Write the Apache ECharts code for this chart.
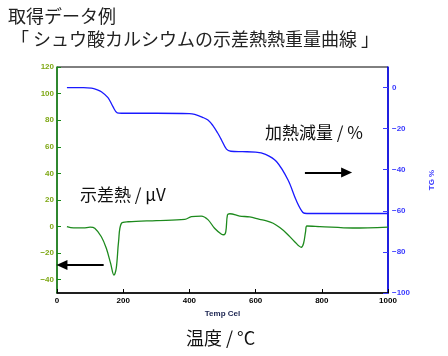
<!DOCTYPE html>
<html><head><meta charset="utf-8">
<script src="https://cdn.jsdelivr.net/npm/echarts@6/dist/echarts.min.js"></script>
<style>html,body{margin:0;padding:0;background:#fff}#c{width:448px;height:356px}</style>
</head><body><div id="c"></div>
<script>
// Temperature (°C) and TG (%) values
var tgTemp = [30, 80, 104, 120, 134, 154, 169, 182, 195, 300, 400, 416, 440, 456, 471, 485, 497, 512, 525, 560, 600, 630, 663, 698, 723, 743, 755, 800, 1000];
var tgValue = [0, 0, -0.3, -1, -2, -4.9, -9.3, -12.3, -12.5, -12.5, -12.7, -13.1, -14.5, -15.8, -18.5, -22, -25.5, -30, -31, -31.2, -31.4, -32.5, -36, -45, -55, -60.8, -61.3, -61.3, -61.3];
// Temperature (°C) and DTA (μV) values
var dtaTemp = [30, 50, 80, 100, 114, 134, 149, 162, 172, 179, 186, 194.5, 215, 300, 386, 406, 436, 456, 476, 497, 504, 510, 515, 522, 552, 582, 612, 633, 653, 673, 693, 718, 738, 745, 751, 755, 794, 894, 1000];
var dtaValue = [0, -1, -1, -0.5, -1.3, -7.7, -16.4, -27.7, -36.5, -31.4, -11.4, 2.4, 3.6, 4.5, 5.4, 7.4, 7.9, 5.2, -1.3, -5.8, -6.2, -3.8, 8.7, 9.6, 7.9, 7.2, 5.4, 4.3, 2.5, -0.8, -5, -11.4, -15.6, -12.6, -3.8, 0.4, 0, -1.1, -0.4];
// Axis tick values
var xTicks = [0, 200, 400, 600, 800, 1000];
var leftTicks = [-40, -20, 0, 20, 40, 60, 80, 100, 120];
var rightTicks = [-100, -80, -60, -40, -20, 0];
// Arrow annotations (data coordinates)
var dtaArrow = [[141, -28.9], [15, -28.9]];
var tgArrow = [[749, -41.3], [875, -41.3]];

function pairs(xs, ys) { return xs.map(function (x, i) { return [x, ys[i]]; }); }
function minus(v) { return String(v).replace('-', '\u2212'); }

var chart = echarts.init(document.getElementById('c'), null, { renderer: 'canvas' });
var jp = '"Noto Sans CJK JP", "Noto Sans", sans-serif';
var lat = '"Liberation Sans", Arial, sans-serif';
chart.setOption({
  animation: false,
  backgroundColor: '#fff',
  grid: { left: 57, right: 60, top: 67, bottom: 63, show: true, borderColor: '#000', borderWidth: 1, backgroundColor: 'transparent' },
  xAxis: {
    type: 'value', min: 0, max: 1000, interval: 200,
    name: 'Temp Cel', nameLocation: 'middle', nameGap: 15,
    nameTextStyle: { fontSize: 8, fontWeight: 'bold', color: '#1a2350', fontFamily: lat },
    axisLine: { onZero: false, lineStyle: { color: '#000', width: 1.5 } },
    axisTick: { inside: true, length: 4, customValues: xTicks, lineStyle: { color: '#000' } },
    axisLabel: { fontSize: 8, fontWeight: 'bold', color: '#000', margin: 4, fontFamily: lat, customValues: xTicks, formatter: function (v) { return String(v); } },
    splitLine: { show: false }
  },
  yAxis: [{
    type: 'value', min: -50, max: 120, interval: 10, position: 'left',
    axisLine: { show: true, onZero: false, lineStyle: { color: '#148a14', width: 1.5 } },
    axisTick: { show: true, inside: true, length: 4, customValues: leftTicks, lineStyle: { color: '#148a14' } },
    axisLabel: { fontSize: 8, fontWeight: 'bold', color: '#7ea814', margin: 3, fontFamily: lat, customValues: leftTicks, formatter: minus },
    splitLine: { show: false }
  }, {
    type: 'value', min: -100, max: 10, interval: 10, position: 'right',
    name: 'TG %', nameLocation: 'middle', nameGap: 40, nameRotate: 90,
    nameTextStyle: { fontSize: 8, fontWeight: 'bold', color: '#3b3bff', fontFamily: lat },
    axisLine: { show: true, onZero: false, lineStyle: { color: '#0000ff', width: 1.5 } },
    axisTick: { show: true, inside: true, length: 5, customValues: rightTicks, lineStyle: { color: '#3b3bff' } },
    axisLabel: { fontSize: 8, fontWeight: 'bold', color: '#3b3bff', margin: 4, fontFamily: lat, customValues: rightTicks, formatter: minus },
    splitLine: { show: false }
  }],
  series: [{
    type: 'line', yAxisIndex: 0, data: pairs(dtaTemp, dtaValue), showSymbol: false,
    smooth: 0.35,
    lineStyle: { color: '#1d8a1d', width: 1.3 },
    markLine: {
      silent: true, symbol: ['none', 'triangle'], symbolSize: [10, 11],
      lineStyle: { color: '#000', width: 2, type: 'solid' }, label: { show: false },
      data: [[{ coord: dtaArrow[0] }, { coord: dtaArrow[1] }]]
    }
  }, {
    type: 'line', yAxisIndex: 1, data: pairs(tgTemp, tgValue), showSymbol: false,
    smooth: 0.35,
    lineStyle: { color: '#1a1aff', width: 1.3 },
    markLine: {
      silent: true, symbol: ['none', 'triangle'], symbolSize: [10, 11],
      lineStyle: { color: '#000', width: 2, type: 'solid' }, label: { show: false },
      data: [[{ coord: tgArrow[0] }, { coord: tgArrow[1] }]]
    }
  }],
  graphic: [
    { type: 'text', left: 8, top: 7, style: { text: '取得データ例', fontSize: 18, fontFamily: jp, fill: '#222' } },
    { type: 'text', left: 11, top: 30, style: { text: '「 シュウ酸カルシウムの示差熱熱重量曲線 」', fontSize: 18, fontFamily: jp, fill: '#222' } },
    { type: 'text', left: 80, top: 186, style: { text: '示差熱 / μV', fontSize: 17, fontFamily: jp, fill: '#111' } },
    { type: 'text', left: 265, top: 124, style: { text: '加熱減量 / %', fontSize: 17, fontFamily: jp, fill: '#111' } },
    { type: 'text', left: 186, top: 329, style: { text: '温度 / °C', fontSize: 18, fontFamily: jp, fill: '#111' } }
  ]
});
</script></body></html>
